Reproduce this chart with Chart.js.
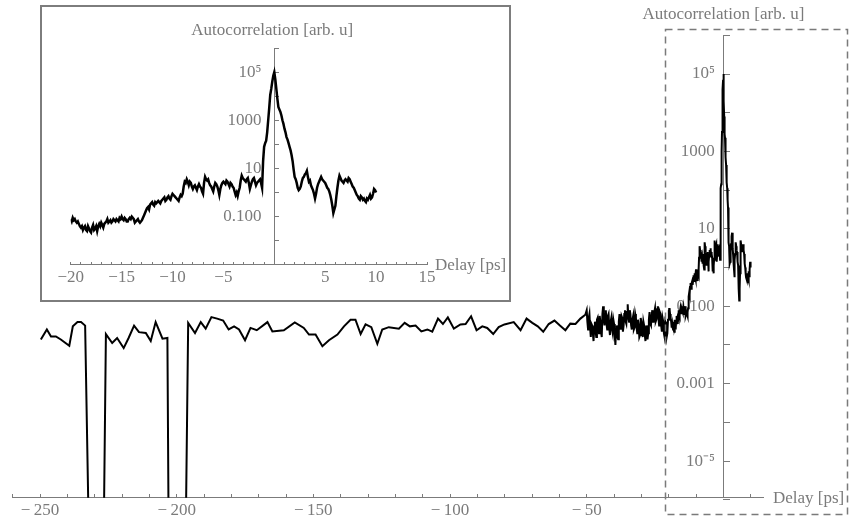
<!DOCTYPE html>
<html>
<head>
<meta charset="utf-8">
<script src="https://cdn.jsdelivr.net/npm/chart.js@4.4.1/dist/chart.umd.min.js"></script>
<style>
  body { margin: 0; background: #fff; }
  #wrap { position: relative; width: 850px; height: 519px; overflow: hidden; }
  #main { position: absolute; left: 0; top: 0; }
  #insetBox { position: absolute; left: 40px; top: 5px; width: 471px; height: 297px; box-sizing: border-box; border: 2px solid #7d7d7d; background: #fff; }
  #inset { position: absolute; left: 0; top: 0; }
  #frame { position: absolute; left: 0; top: 0; pointer-events: none; }
</style>
</head>
<body>
<div id="wrap">
  <canvas id="main" width="850" height="519"></canvas>
  <div id="insetBox"><canvas id="inset" width="467" height="293"></canvas></div>
  <svg id="frame" width="850" height="519"><rect x="665.5" y="29.5" width="182" height="485" fill="none" stroke="#7a7a7a" stroke-width="1.5" stroke-dasharray="7 5"/></svg>
</div>
<script>
// coarse scan, -250 ... -50 ps (the 5e-7 points are dropouts, they fall off the bottom of the log axis)
const coarseDelay = [-249.7, -247.5, -246.0, -244.2, -242.4, -239.3, -238.0, -236.3, -235.0, -233.5,
  -232.3, -226.6, -225.9, -223.6, -221.8, -219.4, -217.6, -215.6, -213.8, -211.3,
  -209.5, -207.7, -205.2, -203.4, -203.0, -196.6, -195.8, -193.3, -191.2, -189.4,
  -187.3, -185.2, -183.0, -181.0, -179.0, -177.2, -175.0, -173.0, -170.7, -166.8,
  -165.0, -160.8, -156.8, -153.5, -151.6, -149.2, -146.7, -144.3, -141.2, -138.8,
  -136.4, -134.6, -132.7, -130.9, -128.8, -126.6, -124.8, -122.4, -118.7, -116.6,
  -114.7, -112.6, -110.5, -108.3, -106.5, -104.4, -102.6, -100.8, -98.6, -96.2,
  -94.3, -92.3, -90.3, -88.2, -86.4, -84.2, -82.2, -80.1, -76.7, -74.2,
  -72.0, -69.9, -67.9, -65.9, -63.9, -61.8, -59.8, -57.8, -56.0, -54.1,
  -52.3, -50.5];
const coarseSignal = [0.0138, 0.0251, 0.0166, 0.0166, 0.0138, 0.0095, 0.0302, 0.0389, 0.0389, 0.0316,
  5e-7, 5e-7, 0.0191, 0.0112, 0.0151, 0.0083, 0.0151, 0.0316, 0.0214, 0.0204,
  0.0126, 0.0389, 0.0145, 0.0151, 5e-7, 5e-7, 0.0372, 0.0204, 0.0389, 0.0263,
  0.0525, 0.0479, 0.0427, 0.0251, 0.0302, 0.0251, 0.0132, 0.0275, 0.0240, 0.0389,
  0.0224, 0.0240, 0.0380, 0.0275, 0.0186, 0.0186, 0.0093, 0.0132, 0.0186, 0.0302,
  0.0447, 0.0447, 0.0191, 0.0339, 0.0288, 0.0107, 0.0251, 0.0288, 0.0263, 0.0372,
  0.0302, 0.0316, 0.0224, 0.0251, 0.0219, 0.0479, 0.0347, 0.0513, 0.0263, 0.0339,
  0.0347, 0.0550, 0.0240, 0.0302, 0.0275, 0.0191, 0.0288, 0.0339, 0.0389, 0.0240,
  0.0479, 0.0372, 0.0302, 0.0219, 0.0347, 0.0427, 0.0316, 0.0240, 0.0355, 0.0347,
  0.0479, 0.0603];

// fine scan, -50 ... -20.25 ps
const fineDelay = [-50, -49.75, -49.5, -49.25, -49, -48.75, -48.5, -48.25, -48, -47.75,
  -47.5, -47.25, -47, -46.75, -46.5, -46.25, -46, -45.75, -45.5, -45.25,
  -45, -44.75, -44.5, -44.25, -44, -43.75, -43.5, -43.25, -43, -42.75,
  -42.5, -42.25, -42, -41.75, -41.5, -41.25, -41, -40.75, -40.5, -40.25,
  -40, -39.75, -39.5, -39.25, -39, -38.75, -38.5, -38.25, -38, -37.75,
  -37.5, -37.25, -37, -36.75, -36.5, -36.25, -36, -35.75, -35.5, -35.25,
  -35, -34.75, -34.5, -34.25, -34, -33.75, -33.5, -33.25, -33, -32.75,
  -32.5, -32.25, -32, -31.75, -31.5, -31.25, -31, -30.75, -30.5, -30.25,
  -30, -29.75, -29.5, -29.25, -29, -28.75, -28.5, -28.25, -28, -27.75,
  -27.5, -27.25, -27, -26.75, -26.5, -26.25, -26, -25.75, -25.5, -25.25,
  -25, -24.75, -24.5, -24.25, -24, -23.75, -23.5, -23.25, -23, -22.75,
  -22.5, -22.25, -22, -21.75, -21.5, -21.25, -21, -20.75, -20.5, -20.25];
const fineSignal = [0.079, 0.040, 0.025, 0.050, 0.063, 0.028, 0.016, 0.035, 0.032, 0.020,
  0.0126, 0.028, 0.040, 0.022, 0.016, 0.045, 0.050, 0.028, 0.020, 0.056,
  0.040, 0.022, 0.016, 0.063, 0.100, 0.045, 0.032, 0.063, 0.079, 0.035,
  0.025, 0.056, 0.063, 0.028, 0.018, 0.040, 0.050, 0.025, 0.020, 0.045,
  0.035, 0.018, 0.010, 0.025, 0.032, 0.016, 0.014, 0.040, 0.063, 0.035,
  0.025, 0.056, 0.050, 0.022, 0.032, 0.063, 0.079, 0.040, 0.035, 0.071,
  0.112, 0.050, 0.040, 0.079, 0.063, 0.032, 0.025, 0.045, 0.056, 0.025,
  0.028, 0.063, 0.050, 0.028, 0.020, 0.045, 0.035, 0.016, 0.018, 0.050,
  0.040, 0.022, 0.016, 0.040, 0.032, 0.018, 0.0126, 0.028, 0.032, 0.014,
  0.020, 0.045, 0.071, 0.035, 0.032, 0.056, 0.079, 0.040, 0.040, 0.071,
  0.089, 0.040, 0.045, 0.079, 0.100, 0.050, 0.032, 0.071, 0.063, 0.032,
  0.022, 0.050, 0.040, 0.020, 0.016, 0.040, 0.035, 0.016, 0.020, 0.045];

// fine scan around the peak, -20 ... 10 ps (this is also the inset)
const peakDelay = [-20, -19.9, -19.8, -19.7, -19.6, -19.5, -19.4, -19.3, -19.2, -19.1,
  -19, -18.9, -18.8, -18.7, -18.6, -18.5, -18.4, -18.3, -18.2, -18.1,
  -18, -17.9, -17.8, -17.7, -17.6, -17.5, -17.4, -17.3, -17.2, -17.1,
  -17, -16.9, -16.8, -16.7, -16.6, -16.5, -16.4, -16.3, -16.2, -16.1,
  -16, -15.9, -15.8, -15.7, -15.6, -15.5, -15.4, -15.3, -15.2, -15.1,
  -15, -14.9, -14.8, -14.7, -14.6, -14.5, -14.4, -14.3, -14.2, -14.1,
  -14, -13.9, -13.8, -13.7, -13.6, -13.5, -13.4, -13.3, -13.2, -13.1,
  -13, -12.9, -12.8, -12.7, -12.6, -12.5, -12.4, -12.3, -12.2, -12.1,
  -12, -11.9, -11.8, -11.7, -11.6, -11.5, -11.4, -11.3, -11.2, -11.1,
  -11, -10.9, -10.8, -10.7, -10.6, -10.5, -10.4, -10.3, -10.2, -10.1,
  -10, -9.9, -9.8, -9.7, -9.6, -9.5, -9.4, -9.3, -9.2, -9.1,
  -9, -8.9, -8.8, -8.7, -8.6, -8.5, -8.4, -8.3, -8.2, -8.1,
  -8, -7.9, -7.8, -7.7, -7.6, -7.5, -7.4, -7.3, -7.2, -7.1,
  -7, -6.9, -6.8, -6.7, -6.6, -6.5, -6.4, -6.3, -6.2, -6.1,
  -6, -5.9, -5.8, -5.7, -5.6, -5.5, -5.4, -5.3, -5.2, -5.1,
  -5, -4.9, -4.8, -4.7, -4.6, -4.5, -4.4, -4.3, -4.2, -4.1,
  -4, -3.9, -3.8, -3.7, -3.6, -3.5, -3.4, -3.3, -3.2, -3.1,
  -3, -2.9, -2.8, -2.7, -2.6, -2.5, -2.4, -2.3, -2.2, -2.1,
  -2, -1.9, -1.8, -1.7, -1.6, -1.5, -1.4, -1.3, -1.2, -1.1,
  -1, -0.9, -0.8, -0.7, -0.6, -0.5, -0.4, -0.3, -0.2, -0.1,
  0, 0.1, 0.2, 0.3, 0.4, 0.5, 0.6, 0.7, 0.8, 0.9,
  1, 1.1, 1.2, 1.3, 1.4, 1.5, 1.6, 1.7, 1.8, 1.9,
  2, 2.1, 2.2, 2.3, 2.4, 2.5, 2.6, 2.7, 2.8, 2.9,
  3, 3.1, 3.2, 3.3, 3.4, 3.5, 3.6, 3.7, 3.8, 3.9,
  4, 4.1, 4.2, 4.3, 4.4, 4.5, 4.6, 4.7, 4.8, 4.9,
  5, 5.1, 5.2, 5.3, 5.4, 5.5, 5.6, 5.7, 5.8, 5.9,
  6, 6.1, 6.2, 6.3, 6.4, 6.5, 6.6, 6.7, 6.8, 6.9,
  7, 7.1, 7.2, 7.3, 7.4, 7.5, 7.6, 7.7, 7.8, 7.9,
  8, 8.1, 8.2, 8.3, 8.4, 8.5, 8.6, 8.7, 8.8, 8.9,
  9, 9.1, 9.2, 9.3, 9.4, 9.5, 9.6, 9.7, 9.8, 9.9,
  10];
const peakSignal = [0.079, 0.063, 0.089, 0.071, 0.079, 0.063, 0.056, 0.063, 0.050, 0.040,
  0.035, 0.040, 0.028, 0.035, 0.040, 0.028, 0.025, 0.040, 0.032, 0.025,
  0.022, 0.035, 0.045, 0.028, 0.032, 0.040, 0.025, 0.040, 0.050, 0.040,
  0.056, 0.045, 0.035, 0.050, 0.056, 0.063, 0.079, 0.056, 0.063, 0.071,
  0.056, 0.063, 0.079, 0.071, 0.063, 0.079, 0.071, 0.063, 0.089, 0.079,
  0.100, 0.079, 0.071, 0.089, 0.079, 0.063, 0.063, 0.079, 0.089, 0.079,
  0.100, 0.089, 0.079, 0.056, 0.063, 0.071, 0.079, 0.063, 0.056, 0.063,
  0.071, 0.089, 0.112, 0.141, 0.178, 0.224, 0.251, 0.200, 0.316, 0.355,
  0.398, 0.316, 0.282, 0.398, 0.355, 0.398, 0.447, 0.398, 0.355, 0.447,
  0.501, 0.562, 0.631, 0.447, 0.501, 0.631, 0.708, 0.562, 0.501, 0.708,
  0.891, 0.794, 0.708, 0.631, 0.562, 0.501, 0.447, 0.631, 0.794, 0.708,
  0.891, 1.78, 2.82, 2.51, 3.55, 2.82, 2.00, 2.82, 2.51, 1.78,
  1.41, 1.78, 2.00, 1.58, 1.26, 1.78, 2.24, 1.78, 1.58, 1.12,
  0.891, 2.51, 4.47, 3.55, 3.16, 3.55, 2.51, 2.00, 1.78, 1.41,
  1.12, 1.78, 2.51, 2.24, 1.78, 1.26, 0.794, 1.41, 2.00, 2.51,
  2.82, 2.51, 2.24, 3.16, 2.82, 2.24, 1.78, 2.51, 2.24, 1.78,
  1.58, 1.12, 0.794, 1.00, 0.708, 1.12, 1.58, 3.16, 5.01, 3.98,
  3.55, 3.16, 2.82, 3.55, 3.98, 2.51, 1.41, 2.00, 2.82, 3.55,
  3.98, 2.82, 2.00, 2.51, 2.82, 3.16, 3.55, 2.51, 1.58, 20,
  79, 112, 141, 316, 1000, 3160, 11200, 20000, 39800, 70800,
  100000, 50100, 20000, 7940, 3550, 2820, 2240, 1580, 1000, 708,
  447, 316, 200, 158, 112, 79, 56, 35.5, 20, 8.91,
  4.47, 3.55, 2.51, 1.58, 1.26, 1.41, 1.78, 2.82, 3.98, 4.47,
  5.62, 6.31, 7.94, 4.47, 2.82, 3.16, 2.00, 1.58, 1.26, 0.891,
  0.562, 0.891, 1.58, 2.24, 2.82, 3.55, 4.47, 3.55, 3.16, 2.82,
  2.51, 2.00, 1.58, 1.41, 1.12, 0.794, 0.501, 0.282, 0.141, 0.200,
  0.282, 0.708, 1.58, 3.16, 5.01, 3.98, 3.16, 2.82, 2.51, 3.16,
  3.55, 3.16, 2.82, 3.98, 3.55, 2.82, 2.24, 1.78, 1.58, 1.26,
  1.00, 0.794, 0.708, 0.562, 0.501, 0.708, 0.631, 0.501, 0.562, 0.447,
  0.398, 0.562, 0.501, 0.631, 0.794, 0.562, 0.631, 0.891, 1.41, 1.26,
  1.00];

// ticks and their labels ('' = unlabelled tick)
const mainXTicks = [-260, -250, -240, -230, -220, -210, -200, -190, -180, -170, -160, -150, -140, -130,
  -120, -110, -100, -90, -80, -70, -60, -50, -40, -30, -20, -10, 0, 10];
const mainXLabels = ['', '−\u2009250', '', '', '', '', '−\u2009200', '', '', '', '', '−\u2009150', '', '',
  '', '', '−\u2009100', '', '', '', '', '−\u200950', '', '', '', '', '', ''];
const mainYTicks = [1e-6, 1e-5, 1e-4, 1e-3, 1e-2, 1e-1, 1, 10, 100, 1e3, 1e4, 1e5, 1e6];
const mainYLabels = ['', '10⁻⁵', '', '0.001', '', '0.100', '', '10', '', '1000', '', '10⁵', ''];

const insetXTicks = [-20, -19, -18, -17, -16, -15, -14, -13, -12, -11, -10, -9, -8, -7, -6, -5, -4, -3,
  -2, -1, 0, 1, 2, 3, 4, 5, 6, 7, 8, 9, 10, 11, 12, 13, 14, 15];
const insetXLabels = ['−20', '', '', '', '', '−15', '', '', '', '', '−10', '', '', '', '', '−5', '', '',
  '', '', '', '', '', '', '', '5', '', '', '', '', '10', '', '', '', '', '15'];
const insetYTicks = [1e-3, 1e-2, 1e-1, 1, 10, 100, 1e3, 1e4, 1e5, 1e6];
const insetYLabels = ['', '', '0.100', '', '10', '', '1000', '', '10⁵', ''];

const yTitle = 'Autocorrelation [arb. u]';
const xTitle = 'Delay [ps]';

const grey = '#7b7b7b';
const serif = "'Liberation Serif', 'Times New Roman', serif";

const toPoints = (xs, ys) => xs.map((x, i) => ({ x: x, y: ys[i] }));

// axis titles sit at the ends of the axes, Mathematica style
const axisTitles = {
  id: 'axisTitles',
  afterDraw(chart, args, o) {
    const { ctx, chartArea, scales } = chart;
    const x0 = scales.x.getPixelForValue(0);
    const yBase = scales.y.getPixelForValue(scales.y.min);
    ctx.save();
    ctx.font = o.size + 'px ' + serif;
    ctx.fillStyle = grey;
    ctx.textBaseline = 'alphabetic';
    ctx.textAlign = 'center';
    ctx.fillText(yTitle, x0 + o.yShift, chartArea.top - o.yGap);
    ctx.textAlign = 'left';
    ctx.fillText(xTitle, chartArea.right + o.xGap, yBase + o.xDrop);
    ctx.restore();
  }
};

function axes(cfg) {
  return {
    x: {
      type: 'linear', min: cfg.xMin, max: cfg.xMax, position: { y: cfg.yMin },
      afterBuildTicks: s => { s.ticks = cfg.xTicks.map(v => ({ value: v })); },
      ticks: { autoSkip: false, maxRotation: 0, padding: cfg.xPad, color: grey,
               font: { family: serif, size: 17 }, callback: (v, i) => cfg.xLabels[i] },
      grid: { drawOnChartArea: false, tickLength: cfg.xTick, tickColor: grey, tickWidth: 1 },
      border: { color: grey, width: 1 }
    },
    y: {
      type: 'logarithmic', min: cfg.yMin, max: cfg.yMax, position: { x: 0 },
      afterBuildTicks: s => { s.ticks = cfg.yTicks.map(v => ({ value: v })); },
      // labels of an axis placed at x = 0 are right-aligned on the axis itself,
      // so trailing spaces keep them clear of it
      ticks: { autoSkip: false, color: grey, font: { family: serif, size: 17 },
               callback: (v, i) => cfg.yLabels[i] ? cfg.yLabels[i] + cfg.yGapText : '' },
      grid: { drawOnChartArea: false, tickLength: cfg.yTick, tickColor: grey, tickWidth: 1 },
      border: { color: grey, width: 1 }
    }
  };
}

const mainPoints = toPoints(coarseDelay, coarseSignal)
  .concat(toPoints(fineDelay, fineSignal))
  .concat(toPoints(peakDelay, peakSignal));

new Chart(document.getElementById('main'), {
  type: 'line',
  data: { datasets: [{ data: mainPoints, borderColor: '#000', borderWidth: 2, pointRadius: 0, tension: 0, fill: false }] },
  plugins: [axisTitles],
  options: {
    responsive: false, animation: false, events: [],
    layout: { padding: { left: 12.7, right: 87, top: 35.3, bottom: 21.3 } },
    plugins: {
      legend: { display: false }, tooltip: { enabled: false },
      axisTitles: { size: 17, yShift: 0, yGap: 16, xGap: 10, xDrop: 5 }
    },
    scales: axes({
      // the horizontal axis crosses just above 1e-6, where the 1e-6 tick sits
      xMin: -260, xMax: 14.5, yMin: 1.13e-6, yMax: 1e6,
      xTicks: mainXTicks, xLabels: mainXLabels, yTicks: mainYTicks, yLabels: mainYLabels,
      xTick: -4, xPad: 7, yTick: -7, yGapText: '  '
    })
  }
});

new Chart(document.getElementById('inset'), {
  type: 'line',
  data: { datasets: [{ data: toPoints(peakDelay, peakSignal), borderColor: '#000', borderWidth: 2.5, pointRadius: 0, tension: 0, fill: false }] },
  plugins: [axisTitles],
  options: {
    responsive: false, animation: false, events: [],
    layout: { padding: { left: 28.7, right: 82, top: 41, bottom: 35.2 } },
    plugins: {
      legend: { display: false }, tooltip: { enabled: false },
      axisTitles: { size: 17, yShift: -2, yGap: 13, xGap: 8, xDrop: 5 }
    },
    scales: axes({
      xMin: -20, xMax: 15, yMin: 1e-3, yMax: 1e6,
      xTicks: insetXTicks, xLabels: insetXLabels, yTicks: insetYTicks, yLabels: insetYLabels,
      xTick: -3, xPad: 6, yTick: -5, yGapText: '   '
    })
  }
});
</script>
</body>
</html>
